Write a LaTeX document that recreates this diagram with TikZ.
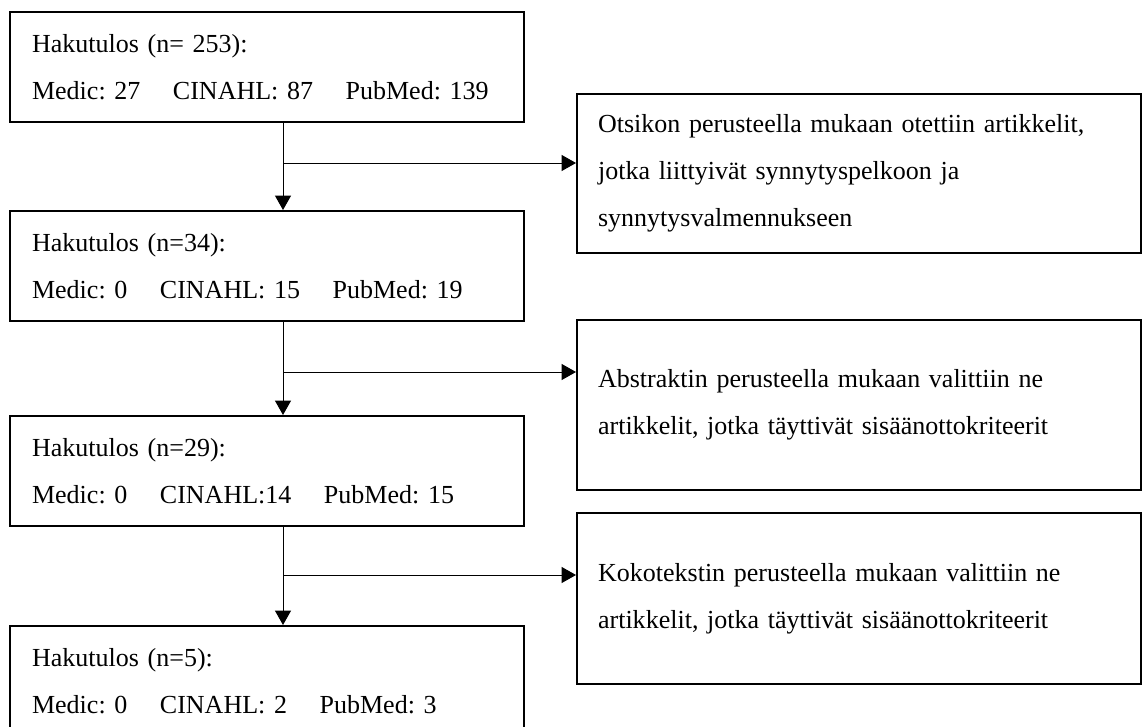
\documentclass[tikz,border=0pt]{standalone}
\usepackage{fontspec}
\setmainfont{Liberation Serif}
\usetikzlibrary{arrows.meta,positioning}
\frenchspacing

\tikzset{
  hakubox/.style={draw, line width=1.5pt, anchor=north west, align=left,
    inner xsep=0.55cm, inner ysep=0pt, text width=11.75cm,
    minimum height=2.75cm, font=\fontsize{18.5}{33}\selectfont},
  rajausbox/.style={draw, line width=1.5pt, anchor=north west, align=left,
    inner xsep=0.525cm, inner ysep=0pt, text width=13.05cm,
    font=\fontsize{18.5}{33.5}\selectfont},
  flow/.style={line width=0.7pt, -{Triangle[length=0.36cm, width=0.4cm]}}
}
\newcommand{\vali}{\hspace{1.25em}}

\begin{document}
\begin{tikzpicture}[x=0.025cm, y=-0.025cm]
\useasboundingbox (0,0) rectangle (1142,727);

% Hakutulokset (left column)
\node[hakubox] (b1) at (9,11) {Hakutulos (n= 253):\\Medic: 27\vali CINAHL: 87\vali PubMed: 139};
\node[hakubox] (b2) at (9,210) {Hakutulos (n=34):\\Medic: 0\vali CINAHL: 15\vali PubMed: 19};
\node[hakubox] (b3) at (9,415) {Hakutulos (n=29):\\Medic: 0\vali CINAHL:14\vali PubMed: 15};
\node[hakubox] (b4) at (9,625) {Hakutulos (n=5):\\Medic: 0\vali CINAHL: 2\vali PubMed: 3};

% Rajausperusteet (right column)
\node[rajausbox, minimum height=3.975cm] (r1) at (576,93) {Otsikon perusteella mukaan otettiin artikkelit,\\jotka liittyivät synnytyspelkoon ja\\synnytysvalmennukseen};
\node[rajausbox, minimum height=4.25cm] (r2) at (576,319) {Abstraktin perusteella mukaan valittiin ne\\artikkelit, jotka täyttivät sisäänottokriteerit};
\node[rajausbox, minimum height=4.275cm] (r3) at (576,512) {Kokotekstin perusteella mukaan valittiin ne\\artikkelit, jotka täyttivät sisäänottokriteerit};

% Trunk and branches
\coordinate (trunk) at (283,0);
\coordinate (j1) at (283,163);
\coordinate (j2) at (283,372);
\coordinate (j3) at (283,575);

\draw[flow] (b1.south -| trunk) -- (b2.north -| trunk);
\draw[flow] (b2.south -| trunk) -- (b3.north -| trunk);
\draw[flow] (b3.south -| trunk) -- (b4.north -| trunk);

\draw[flow] (j1) -- (j1 -| r1.west);
\draw[flow] (j2) -- (j2 -| r2.west);
\draw[flow] (j3) -- (j3 -| r3.west);

\end{tikzpicture}
\end{document}
